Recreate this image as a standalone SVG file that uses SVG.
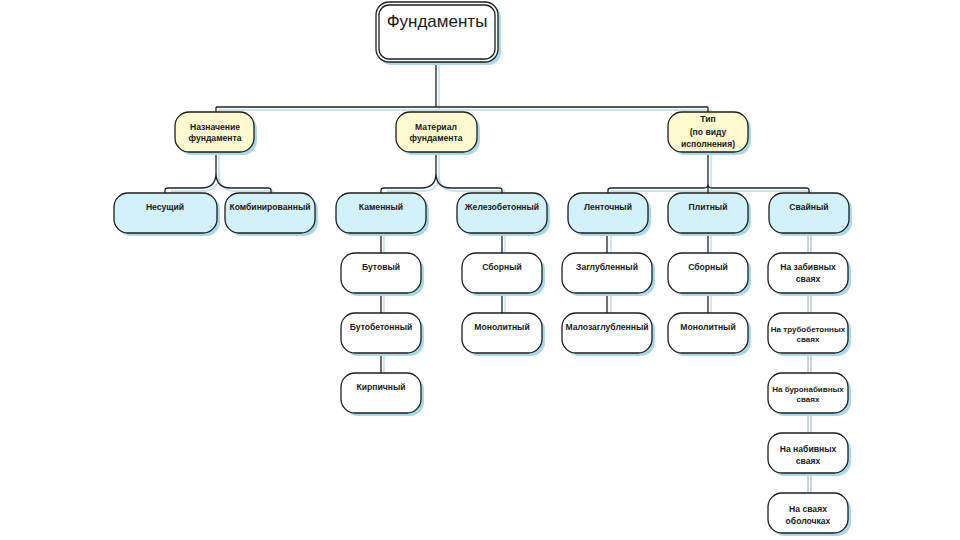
<svg xmlns="http://www.w3.org/2000/svg" width="960" height="540" viewBox="0 0 960 540">
<style>
.sh{fill:#A8D8EA}
.bx{stroke:#1e1e1e;stroke-width:1.3}
.l1{fill:#FFF9CF}
.l2{fill:#D2F1F8}
.l3{fill:#FFFFFF}
.t{font-family:"Liberation Sans",Arial,sans-serif;font-weight:bold;font-size:8.6px;fill:#1a1a1a;text-anchor:middle}
.ts{font-size:8px}
.root{font-family:"Liberation Sans",Arial,sans-serif;font-size:17px;fill:#1a1a1a;text-anchor:middle}
.c{fill:none;stroke:#222;stroke-width:1.3}
.cs{fill:none;stroke:#B5DCEA;stroke-width:1.3}
.cg{fill:none;stroke:#A9BCC8;stroke-width:1.2}
</style>
<rect width="960" height="540" fill="#FFFFFF"/>
<g id="connectors">
  <path class="cs" d="M439,62 V110 M219,110 H711 M219,110 V112 M711,110 V112"/>
  <path class="cs" d="M219,152 V174 Q219,191 204,191 H171 M219,174 Q219,191 234,191 H274"/>
  <path class="cs" d="M439,152 V174 Q439,191 424,191 H387 M439,174 Q439,191 454,191 H505"/>
  <path class="cs" d="M711,152 V191 M611,191 H812"/>
  <path class="cs" d="M384,233 V253 M384,293 V313 M384,353 V373"/>
  <path class="cs" d="M505,233 V253 M505,293 V313"/>
  <path class="cs" d="M611,233 V253 M611,293 V313"/>
  <path class="cs" d="M711,233 V253 M711,293 V313"/>
  <path class="c" d="M436,62 V107 M216,107 H708 M216,107 V112 M708,107 V112"/>
  <path class="c" d="M216,152 V173 Q216,188 201,188 H168 Q165,188 165,190 V193 M216,173 Q216,188 231,188 H268 Q271,188 271,190 V193"/>
  <path class="c" d="M436,152 V173 Q436,188 421,188 H384 Q381,188 381,190 V193 M436,173 Q436,188 451,188 H499 Q502,188 502,190 V193"/>
  <path class="c" d="M708,152 V184 Q708,188 704,188 H611 Q608,188 608,190 V193 M708,184 Q708,188 712,188 H806 Q809,188 809,190 V193 M708,184 V193"/>
  <path class="c" d="M381,233 V253 M381,293 V313 M381,353 V373"/>
  <path class="c" d="M502,233 V253 M502,293 V313"/>
  <path class="c" d="M607,233 V253 M607,293 V313"/>
  <path class="c" d="M708,233 V253 M708,293 V313"/>
  <path class="cg" d="M808,233 V253 M808,293 V313 M808,353 V373 M808,413 V433 M808,473 V493"/>
  <path class="cg" d="M811,233 V253 M811,293 V313 M811,353 V373 M811,413 V433 M811,473 V493"/>
</g>
<g id="root">
  <rect class="sh" x="379" y="5" width="122" height="60" rx="13"/>
  <rect class="bx l3" x="376" y="2" width="122" height="60" rx="13"/>
  <rect class="bx" fill="none" x="379" y="5" width="116" height="54" rx="10" stroke-width="1"/>
  <text class="root" x="437" y="27">Фундаменты</text>
</g>
<g id="naznachenie">
  <rect class="sh" x="178" y="115" width="79" height="40" rx="14"/>
  <rect class="bx l1" x="175" y="112" width="79" height="40" rx="14"/>
  <text class="t" x="215" y="130">Назначение</text>
  <text class="t" x="215" y="141">фундамента</text>
</g>
<g id="material">
  <rect class="sh" x="399" y="115" width="81" height="40" rx="14"/>
  <rect class="bx l1" x="396" y="112" width="81" height="40" rx="14"/>
  <text class="t" x="436" y="130">Материал</text>
  <text class="t" x="436" y="141">фундамента</text>
</g>
<g id="tip">
  <rect class="sh" x="671" y="115" width="80" height="40" rx="14"/>
  <rect class="bx l1" x="668" y="112" width="80" height="40" rx="14"/>
  <text class="t" x="708" y="122">Тип</text>
  <text class="t" x="708" y="135">(по виду</text>
  <text class="t" x="708" y="147">исполнения)</text>
</g>
<g id="nesushchiy">
  <rect class="sh" x="117" y="196" width="103" height="40" rx="14"/>
  <rect class="bx l2" x="114" y="193" width="103" height="40" rx="14"/>
  <text class="t" x="165" y="210">Несущий</text>
</g>
<g id="kombinirovanny">
  <rect class="sh" x="228" y="196" width="90" height="40" rx="14"/>
  <rect class="bx l2" x="225" y="193" width="90" height="40" rx="14"/>
  <text class="t" x="270" y="210">Комбинированный</text>
</g>
<g id="kamenny">
  <rect class="sh" x="339" y="196" width="90" height="40" rx="14"/>
  <rect class="bx l2" x="336" y="193" width="90" height="40" rx="14"/>
  <text class="t" x="381" y="210">Каменный</text>
</g>
<g id="zhelezobetonny">
  <rect class="sh" x="460" y="196" width="90" height="40" rx="14"/>
  <rect class="bx l2" x="457" y="193" width="90" height="40" rx="14"/>
  <text class="t" x="502" y="210">Железобетонный</text>
</g>
<g id="lentochny">
  <rect class="sh" x="571" y="196" width="80" height="40" rx="14"/>
  <rect class="bx l2" x="568" y="193" width="80" height="40" rx="14"/>
  <text class="t" x="608" y="210">Ленточный</text>
</g>
<g id="plitny">
  <rect class="sh" x="671" y="196" width="80" height="40" rx="14"/>
  <rect class="bx l2" x="668" y="193" width="80" height="40" rx="14"/>
  <text class="t" x="708" y="210">Плитный</text>
</g>
<g id="svayny">
  <rect class="sh" x="772" y="196" width="80" height="40" rx="14"/>
  <rect class="bx l2" x="769" y="193" width="80" height="40" rx="14"/>
  <text class="t" x="809" y="210">Свайный</text>
</g>
<g id="butovy">
  <rect class="sh" x="344" y="256" width="80" height="40" rx="14"/>
  <rect class="bx l3" x="341" y="253" width="80" height="40" rx="14"/>
  <text class="t" x="381" y="270">Бутовый</text>
</g>
<g id="butobetonny">
  <rect class="sh" x="344" y="316" width="80" height="40" rx="14"/>
  <rect class="bx l3" x="341" y="313" width="80" height="40" rx="14"/>
  <text class="t" x="381" y="330">Бутобетонный</text>
</g>
<g id="kirpichny">
  <rect class="sh" x="344" y="376" width="80" height="40" rx="14"/>
  <rect class="bx l3" x="341" y="373" width="80" height="40" rx="14"/>
  <text class="t" x="381" y="390">Кирпичный</text>
</g>
<g id="sborny1">
  <rect class="sh" x="465" y="256" width="80" height="40" rx="14"/>
  <rect class="bx l3" x="462" y="253" width="80" height="40" rx="14"/>
  <text class="t" x="502" y="270">Сборный</text>
</g>
<g id="monolitny1">
  <rect class="sh" x="465" y="316" width="80" height="40" rx="14"/>
  <rect class="bx l3" x="462" y="313" width="80" height="40" rx="14"/>
  <text class="t" x="502" y="330">Монолитный</text>
</g>
<g id="zaglublenny">
  <rect class="sh" x="565" y="256" width="90" height="40" rx="14"/>
  <rect class="bx l3" x="562" y="253" width="90" height="40" rx="14"/>
  <text class="t" x="607" y="270">Заглубленный</text>
</g>
<g id="malozaglublenny">
  <rect class="sh" x="565" y="316" width="90" height="40" rx="14"/>
  <rect class="bx l3" x="562" y="313" width="90" height="40" rx="14"/>
  <text class="t" x="607" y="330">Малозаглубленный</text>
</g>
<g id="sborny2">
  <rect class="sh" x="671" y="256" width="80" height="40" rx="14"/>
  <rect class="bx l3" x="668" y="253" width="80" height="40" rx="14"/>
  <text class="t" x="708" y="270">Сборный</text>
</g>
<g id="monolitny2">
  <rect class="sh" x="671" y="316" width="80" height="40" rx="14"/>
  <rect class="bx l3" x="668" y="313" width="80" height="40" rx="14"/>
  <text class="t" x="708" y="330">Монолитный</text>
</g>
<g id="zabivnye">
  <rect class="sh" x="771" y="256" width="80" height="40" rx="14"/>
  <rect class="bx l3" x="768" y="253" width="80" height="40" rx="14"/>
  <text class="t" x="808" y="270">На забивных</text>
  <text class="t" x="808" y="282">сваях</text>
</g>
<g id="trubobetonnye">
  <rect class="sh" x="771" y="316" width="80" height="40" rx="14"/>
  <rect class="bx l3" x="768" y="313" width="80" height="40" rx="14"/>
  <text class="t ts" x="808" y="332">На трубобетонных</text>
  <text class="t ts" x="808" y="342">сваях</text>
</g>
<g id="buronabivnye">
  <rect class="sh" x="771" y="376" width="80" height="40" rx="14"/>
  <rect class="bx l3" x="768" y="373" width="80" height="40" rx="14"/>
  <text class="t ts" x="808" y="392">На буронабивных</text>
  <text class="t ts" x="808" y="402">сваях</text>
</g>
<g id="nabivnye">
  <rect class="sh" x="771" y="436" width="80" height="40" rx="14"/>
  <rect class="bx l3" x="768" y="433" width="80" height="40" rx="14"/>
  <text class="t" x="808" y="452">На набивных</text>
  <text class="t" x="808" y="464">сваях</text>
</g>
<g id="obolochki">
  <rect class="sh" x="771" y="496" width="80" height="40" rx="14"/>
  <rect class="bx l3" x="768" y="493" width="80" height="40" rx="14"/>
  <text class="t" x="808" y="512">На сваях</text>
  <text class="t" x="808" y="524">оболочках</text>
</g>
</svg>
